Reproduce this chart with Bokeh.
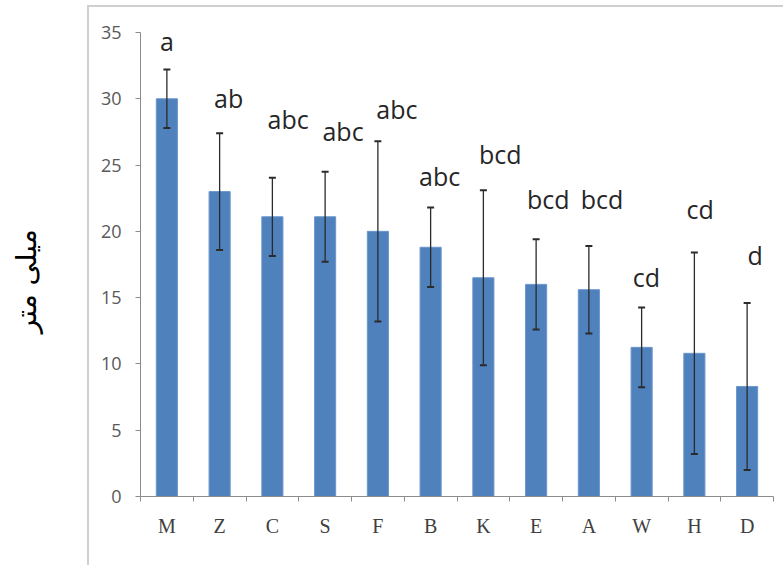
from bokeh.plotting import figure
from bokeh.models import ColumnDataSource, Whisker, TeeHead, FixedTicker, Range1d
from bokeh.embed import file_html
from bokeh.resources import INLINE
from bokeh.core.properties import value

# Group codes, mean values (mm) and standard deviations
groups = ["M", "Z", "C", "S", "F", "B", "K", "E", "A", "W", "H", "D"]
means = [30.0, 23.0, 21.1, 21.1, 20.0, 18.8, 16.5, 16.0, 15.6, 11.25, 10.8, 8.3]
sd = [2.2, 4.4, 2.95, 3.4, 6.8, 3.0, 6.6, 3.4, 3.3, 3.0, 7.6, 6.3]

# Significance letters and where each one sits
letters = ["a", "ab", "abc", "abc", "abc", "abc", "bcd", "bcd", "bcd", "cd", "cd", "d"]
letter_y = [34.35, 30.05, 28.45, 27.6, 29.25, 24.2, 25.8, 22.45, 22.45, 16.55, 21.65, 18.2]
letter_dx = [0.0, 0.17, 0.30, 0.34, 0.36, 0.17, 0.32, 0.23, 0.25, 0.09, 0.11, 0.15]

y_ticks = [0, 5, 10, 15, 20, 25, 30, 35]
y_label = "میلی متر"

xs = [i + 0.5 for i in range(len(groups))]
src = ColumnDataSource(dict(
    x=xs,
    mean=means,
    upper=[m + s for m, s in zip(means, sd)],
    lower=[m - s for m, s in zip(means, sd)],
))
lab_src = ColumnDataSource(dict(
    x=[x + d for x, d in zip(xs, letter_dx)],
    y=letter_y,
    text=letters,
))

p = figure(
    width=783, height=565,
    x_range=Range1d(0, len(groups)), y_range=Range1d(0, 35),
    output_backend="svg", toolbar_location=None,
    min_border_left=140, min_border_right=10,
    min_border_top=32, min_border_bottom=69,
)
p.border_fill_color = None
p.background_fill_color = "white"
p.outline_line_color = None
p.xgrid.visible = False
p.ygrid.visible = False

# light gray frame lines around the chart area
p.styles = {
    "background": (
        "linear-gradient(#cfcfcf,#cfcfcf) 87px 5px / 700px 2px no-repeat, "
        "linear-gradient(#cfcfcf,#cfcfcf) 87px 5px / 2px 570px no-repeat, white"
    )
}

p.vbar(x="x", top="mean", width=0.4, source=src,
       fill_color="#4f81bd", line_color="#6a96cc", line_width=1)

head_u = TeeHead(size=7, line_width=2, line_color="#2b2b2b")
head_l = TeeHead(size=7, line_width=2, line_color="#2b2b2b")
p.add_layout(Whisker(base="x", upper="upper", lower="lower", source=src,
                     line_color="#2b2b2b", line_width=1.3, level="annotation",
                     upper_head=head_u, lower_head=head_l))

p.text(x="x", y="y", text="text", source=lab_src,
       text_font=value("Open Sans"), text_font_size="25px",
       text_align="center", text_baseline="alphabetic", text_color="#262626")

# x axis: labels at bar centres, tick marks between categories
xa = p.xaxis[0]
xa.ticker = FixedTicker(ticks=xs, minor_ticks=list(range(len(groups) + 1)))
xa.major_label_overrides = {x: g for x, g in zip(xs, groups)}
xa.major_tick_line_color = None
xa.minor_tick_in = 0
xa.minor_tick_out = 5
xa.minor_tick_line_color = "#8c8c8c"
xa.axis_line_color = "#8c8c8c"
xa.major_label_standoff = 12
xa.major_label_text_font = "Liberation Serif"
xa.major_label_text_font_size = "20px"
xa.major_label_text_color = "#404040"

ya = p.yaxis[0]
ya.ticker = FixedTicker(ticks=y_ticks, minor_ticks=[])
ya.major_tick_in = 0
ya.major_tick_out = 5
ya.major_tick_line_color = "#8c8c8c"
ya.axis_line_color = "#8c8c8c"
ya.major_label_standoff = 14
ya.major_label_text_font = "'Liberation Sans Narrow', 'Open Sans'"
ya.major_label_text_font_size = "18px"
ya.major_label_text_color = "#595959"

# unit label; the trailing em space nudges the words a little lower
ya.axis_label = y_label + "\u2003\u2009"
ya.axis_label_text_font = "DejaVu Sans"
ya.axis_label_text_font_style = "normal"
ya.axis_label_text_font_size = "28px"
ya.axis_label_text_color = "#000000"
ya.axis_label_standoff = 55

open("out.html", "w").write(file_html(p, INLINE))
